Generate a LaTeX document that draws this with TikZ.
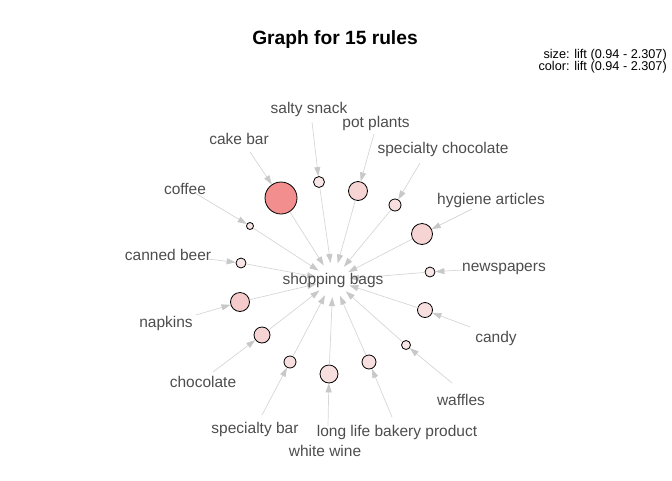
\documentclass[tikz,border=0pt]{standalone}
\usepackage{fontspec}
\setmainfont{Liberation Sans}
\usetikzlibrary{arrows.meta}
\definecolor{lbl}{HTML}{4D4D4D}
\definecolor{edg}{HTML}{D6D6D6}
\definecolor{tip}{HTML}{C8C8C8}
\definecolor{cA}{HTML}{F28E8E}
\definecolor{cB}{HTML}{F5CACA}
\definecolor{cC}{HTML}{F6D4D4}
\definecolor{cD}{HTML}{F7DFDF}
\definecolor{cE}{HTML}{F8E6E6}
\tikzset{
  itemlbl/.style={text=lbl, font=\fontsize{15.5}{18}\selectfont, inner sep=0pt},
  rule/.style={circle, draw=black, line width=0.8pt, inner sep=0pt, minimum size=#1},
  edge/.style={draw=edg, line width=0.7pt, -{Triangle[length=9pt,width=6pt,fill=tip,color=tip]}},
}
\begin{document}
\begin{tikzpicture}[x=1pt,y=-1pt]
\useasboundingbox (0,0) rectangle (672,480);
\node[font=\bfseries\fontsize{19.2}{22}\selectfont] (title) at (335,40) {Graph for 15 rules};
\node[anchor=east, align=right, inner sep=0pt, font=\fontsize{12.7}{12}\selectfont] (legend) at (667,61) {size: lift (0.94 - 2.307)\\color: lift (0.94 - 2.307)};

% hub
\node[circle, minimum size=34pt, inner sep=0pt] (hub) at (333,280) {};

% rule circles
\node[rule=32pt, fill=cA] (r1) at (281,198) {};
\node[rule=11pt, fill=cE] (r2) at (319,182) {};
\node[rule=19pt, fill=cC] (r3) at (358,191) {};
\node[rule=12pt, fill=cD] (r4) at (395,205) {};
\node[rule=21pt, fill=cC] (r5) at (422,234) {};
\node[rule=10pt, fill=cE] (r6) at (430,272) {};
\node[rule=15pt, fill=cD] (r7) at (425,310) {};
\node[rule=9pt, fill=cE] (r8) at (406,345) {};
\node[rule=14pt, fill=cD] (r9) at (369,362) {};
\node[rule=18pt, fill=cD] (r10) at (329,374) {};
\node[rule=12pt, fill=cD] (r11) at (290,362) {};
\node[rule=16pt, fill=cC] (r12) at (262,335) {};
\node[rule=19pt, fill=cB] (r13) at (240,302) {};
\node[rule=10pt, fill=cE] (r14) at (241,263) {};
\node[rule=7pt, fill=cE] (r15) at (250,226) {};

% item labels
\node[itemlbl] (l1) at (239,139) {cake bar};
\node[itemlbl] (l2) at (309,109) {salty snack};
\node[itemlbl] (l3) at (376,123) {pot plants};
\node[itemlbl] (l4) at (443,149) {specialty chocolate};
\node[itemlbl] (l5) at (491,200) {hygiene articles};
\node[itemlbl] (l6) at (504,269) {newspapers};
\node[itemlbl] (l7) at (496,338) {candy};
\node[itemlbl] (l8) at (461,400) {waffles};
\node[itemlbl] (l9) at (397,432) {long life bakery product};
\node[itemlbl] (l10) at (325,451) {white wine};
\node[itemlbl] (l11) at (255,429) {specialty bar};
\node[itemlbl] (l12) at (203,382) {chocolate};
\node[itemlbl] (l13) at (166,323) {napkins};
\node[itemlbl] (l14) at (168,255) {canned beer};
\node[itemlbl] (l15) at (185,189) {coffee};

% item edge start points
\coordinate (s1) at (250,152);
\coordinate (s2) at (312,122);
\coordinate (s3) at (374,134);
\coordinate (s4) at (420,163);
\coordinate (s5) at (472,209);
\coordinate (s6) at (462,270);
\coordinate (s7) at (470,327);
\coordinate (s8) at (452,383);
\coordinate (s9) at (392,417);
\coordinate (s10) at (328,426);
\coordinate (s11) at (262,415);
\coordinate (s12) at (213,372);
\coordinate (s13) at (196,315);
\coordinate (s14) at (208,259);
\coordinate (s15) at (195,193);

\foreach \i in {1,...,15} {
  \draw[edge] (s\i) -- (r\i);
  \draw[edge] (r\i) -- (hub);
}
\node[itemlbl] (sbl) at (333,280) {shopping bags};
\end{tikzpicture}
\end{document}
